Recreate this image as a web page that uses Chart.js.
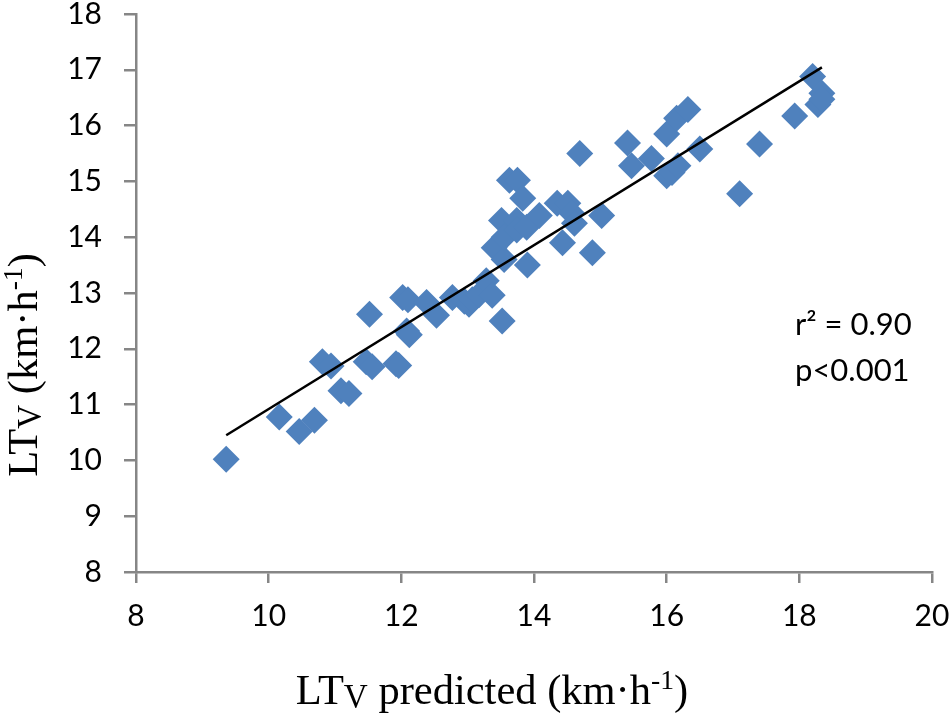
<!DOCTYPE html>
<html>
<head>
<meta charset="utf-8">
<script src="https://cdn.jsdelivr.net/npm/chart.js@4.4.0/dist/chart.umd.min.js"></script>
<style>
  body { margin: 0; background: #fff; }
  #wrap { width: 950px; height: 715px; position: relative; }
</style>
</head>
<body>
<div id="wrap"><canvas id="chart"></canvas></div>
<script>
// LTv predicted (x) vs measured LTv (y), km/h
const predicted = [
  9.36, 10.16, 10.46, 10.69, 10.81, 10.94, 11.09, 11.21, 11.52, 11.47,
  11.56, 11.92, 11.96, 12.02, 12.08, 12.12, 12.10, 12.38, 12.53, 12.77,
  12.95, 13.02, 13.07, 13.17, 13.28, 13.37, 13.40, 13.51, 13.52, 13.55,
  13.55, 13.63, 13.75, 13.74, 13.74, 13.89, 13.83, 13.90, 14.08, 14.35,
  14.43, 14.51, 14.57, 14.61, 14.69, 14.88, 15.02, 15.41, 15.47, 15.77,
  16.00, 16.00, 16.08, 16.15, 16.17, 16.32, 16.50, 17.10, 17.40, 17.93,
  18.20, 18.28, 18.34, 18.34
];
const measured = [
  10.02, 10.78, 10.52, 10.72, 11.77, 11.69, 11.25, 11.20, 12.62, 11.77,
  11.68, 11.73, 11.70, 12.92, 12.32, 12.25, 12.88, 12.83, 12.60, 12.92,
  12.85, 12.80, 12.88, 12.97, 13.22, 12.96, 13.81, 14.30, 12.50, 13.60,
  14.00, 15.02, 15.02, 14.30, 14.13, 14.18, 14.70, 13.50, 14.39, 14.61,
  13.90, 14.61, 14.43, 14.25, 15.50, 13.72, 14.39, 15.69, 15.28, 15.41,
  15.85, 15.10, 15.16, 16.13, 15.28, 16.29, 15.58, 14.78, 15.67, 16.17,
  16.88, 16.38, 16.58, 16.47
];
const statsLines = ['r\u00b2 = 0.90', 'p<0.001'];

const points = predicted.map((x, i) => ({ x: x, y: measured[i] }));

// least squares fit for the trend line
const n = predicted.length;
const mx = predicted.reduce((a, b) => a + b, 0) / n;
const my = measured.reduce((a, b) => a + b, 0) / n;
let sxy = 0, sxx = 0;
for (let i = 0; i < n; i++) {
  sxy += (predicted[i] - mx) * (measured[i] - my);
  sxx += (predicted[i] - mx) * (predicted[i] - mx);
}
const slope = sxy / sxx;
const intercept = my - slope * mx;
const xMin = Math.min(...predicted), xMax = Math.max(...predicted);
const trend = [
  { x: xMin, y: intercept + slope * xMin },
  { x: xMax, y: intercept + slope * xMax }
];

const axisGrey = '#868686';
const serif = '"Liberation Serif", "Times New Roman", serif';

// draws a run of text pieces: [text, sizeScale, baselineShift]
function drawRich(ctx, parts, size, cx, baseY) {
  let total = 0;
  parts.forEach(p => {
    ctx.font = (size * p[1]) + 'px ' + serif;
    total += ctx.measureText(p[0]).width;
  });
  let x = cx - total / 2;
  parts.forEach(p => {
    ctx.font = (size * p[1]) + 'px ' + serif;
    ctx.fillText(p[0], x, baseY + p[2] * size);
    x += ctx.measureText(p[0]).width;
  });
}

const labelsPlugin = {
  id: 'labels',
  afterDraw(chart) {
    const ctx = chart.ctx;
    ctx.save();
    ctx.fillStyle = '#000';
    ctx.textBaseline = 'alphabetic';
    ctx.textAlign = 'left';
    drawRich(ctx, [
      ['LT', 1, 0], ['V', 0.78, 0.08], [' predicted (km\u00b7h', 1, 0],
      ['-1', 0.65, -0.36], [')', 1, 0]
    ], 42.5, 492, 704);

    ctx.save();
    ctx.translate(37, 365);
    ctx.rotate(-Math.PI / 2);
    drawRich(ctx, [
      ['LT', 1, 0], ['V', 0.78, 0.08], [' (km\u00b7h', 1, 0],
      ['-1', 0.65, -0.36], [')', 1, 0]
    ], 42.5, 0, 0);
    ctx.restore();

    ctx.font = '31px Lato';
    ctx.textBaseline = 'middle';
    ctx.fillText(statsLines[0], 795, 325);
    ctx.fillText(statsLines[1], 795, 371);
    ctx.restore();
  }
};

new Chart(document.getElementById('chart'), {
  type: 'scatter',
  data: {
    datasets: [
      {
        type: 'line',
        data: trend,
        borderColor: '#000',
        borderWidth: 2.5,
        pointRadius: 0,
        fill: false,
        order: 0
      },
      {
        data: points,
        pointStyle: 'rectRot',
        pointRadius: 13.5,
        pointHoverRadius: 13.5,
        backgroundColor: '#4F81BD',
        borderColor: '#4F81BD',
        borderWidth: 0,
        order: 1
      }
    ]
  },
  options: {
    responsive: true,
    maintainAspectRatio: false,
    animation: false,
    layout: { padding: { top: 14, right: 18, left: 0, bottom: 0 } },
    plugins: {
      legend: { display: false },
      tooltip: { enabled: false }
    },
    scales: {
      x: {
        type: 'linear',
        min: 8,
        max: 20,
        ticks: { stepSize: 2, padding: 15, color: '#000', font: { family: 'Lato', size: 30 } },
        grid: { drawOnChartArea: false, drawTicks: true, tickLength: 11, color: axisGrey, lineWidth: 2.5 },
        border: { display: true, color: axisGrey, width: 2.5 },
        afterFit(scale) {
          scale.height = 143;
          scale.paddingLeft = 0; scale.paddingRight = 0;
        }
      },
      y: {
        type: 'linear',
        min: 8,
        max: 18,
        ticks: { stepSize: 1, padding: 22, color: '#000', font: { family: 'Lato', size: 30 } },
        grid: { drawOnChartArea: false, drawTicks: true, tickLength: 12, color: axisGrey, lineWidth: 2.5 },
        border: { display: true, color: axisGrey, width: 2.5 },
        afterFit(scale) {
          scale.width = 136;
          scale.paddingTop = 0; scale.paddingBottom = 0;
        }
      }
    }
  },
  plugins: [labelsPlugin]
});
</script>
</body>
</html>
